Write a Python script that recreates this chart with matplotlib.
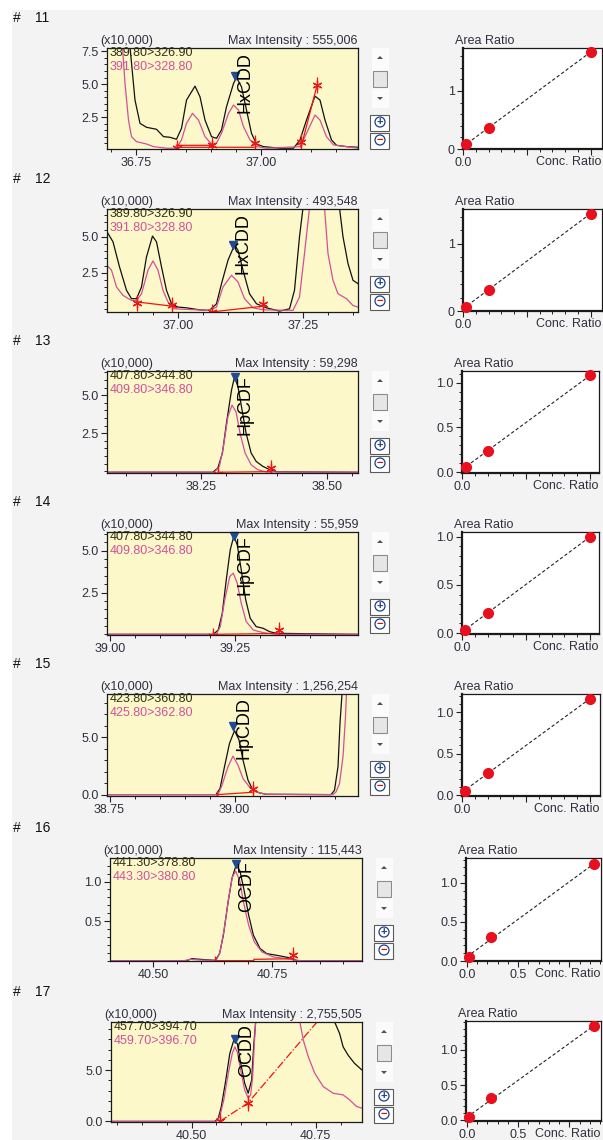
import numpy as np
import matplotlib
matplotlib.use('Agg')
import matplotlib.pyplot as plt
from matplotlib.patches import Rectangle, Polygon, Circle
from matplotlib.ticker import MultipleLocator, FixedLocator, FormatStrFormatter

plt.rcParams['font.family'] = ['Liberation Sans', 'DejaVu Sans']

nan = np.nan
W, H = 603, 1140

# ---------------- data ----------------
row_ids = ['11', '12', '13', '14', '15', '16', '17']
compounds = ['HxCDD', 'HxCDD', 'HpCDF', 'HpCDF', 'HpCDD', 'OCDF', 'OCDD']
max_intensity = ['555,006', '493,548', '59,298', '55,959', '1,256,254', '115,443', '2,755,505']
scale_labels = ['(x10,000)', '(x10,000)', '(x10,000)', '(x10,000)', '(x10,000)', '(x100,000)', '(x10,000)']
trans_quant = ['389.80>326.90', '389.80>326.90', '407.80>344.80', '407.80>344.80',
               '423.80>360.80', '441.30>378.80', '457.70>394.70']
trans_ref = ['391.80>328.80', '391.80>328.80', '409.80>346.80', '409.80>346.80',
             '425.80>362.80', '443.30>380.80', '459.70>396.70']

# chromatograms: retention time (min) / intensity (x scale)
t11_k = [36.733, 36.738, 36.748, 36.758, 36.771, 36.791, 36.805, 36.818, 36.831, 36.841, 36.851, 36.868,
         36.878, 36.888, 36.901, 36.911, 36.921, 36.931, 36.945, 36.951, 36.961, 36.971, 36.981, 36.991,
         37.005, 37.038, 37.065, 37.078, 37.091, 37.108, 37.118, 37.128, 37.141, 37.151, 37.171, 37.195]
y11_k = [9.0, 7.83, 3.79, 2.02, 1.72, 1.57, 1.01, 0.96, 0.81, 1.64, 3.79, 4.85,
         4.04, 2.27, 1.01, 0.88, 1.52, 3.28, 5.05, 5.5, 4.8, 3.03, 1.26, 0.45,
         0.25, 0.13, 0.13, 0.76, 2.27, 4.09, 3.79, 2.27, 0.76, 0.35, 0.25, 0.2]
t11_p = [36.722, 36.723, 36.728, 36.735, 36.741, 36.751, 36.771, 36.785, 36.811, 36.831, 36.841, 36.851,
         36.863, 36.875, 36.888, 36.901, 36.911, 36.921, 36.935, 36.945, 36.955, 36.965, 36.978, 36.991,
         37.011, 37.078, 37.091, 37.108, 37.118, 37.131, 37.145, 37.195]
y11_p = [9.0, 7.83, 5.05, 2.27, 1.01, 0.63, 0.45, 0.25, 0.13, 0.13, 0.76, 2.02,
         2.78, 2.27, 1.01, 0.45, 0.51, 1.26, 2.78, 3.41, 3.03, 1.77, 0.76, 0.25,
         0.13, 0.25, 1.26, 2.65, 2.27, 1.01, 0.38, 0.13]

t12_k = [36.858, 36.87, 36.883, 36.897, 36.907, 36.917, 36.927, 36.937, 36.949, 36.957, 36.967, 36.977,
         36.987, 37.0, 37.017, 37.043, 37.063, 37.077, 37.087, 37.1, 37.11, 37.113, 37.12, 37.13,
         37.143, 37.157, 37.177, 37.203, 37.223, 37.233, 37.243, 37.25, 37.287, 37.323, 37.33, 37.34,
         37.35, 37.36]
y12_k = [5.35, 4.65, 2.92, 1.30, 0.72, 0.72, 1.53, 3.61, 5.05, 4.65, 2.92, 1.30,
         0.37, 0.14, 0.09, -0.05, -0.09, 0.37, 1.76, 3.38, 4.19, 4.42, 4.07, 2.69,
         1.06, 0.37, 0.09, -0.14, 0.02, 1.30, 5.0, 7.0, 14.0, 7.0, 5.0, 3.15,
         1.99, 1.76]
t12_p = [36.858, 36.867, 36.877, 36.89, 36.907, 36.917, 36.927, 36.94, 36.95, 36.96, 36.97, 36.98,
         36.993, 37.063, 37.077, 37.09, 37.107, 37.12, 37.133, 37.15, 37.17, 37.23, 37.243, 37.253,
         37.263, 37.278, 37.293, 37.3, 37.31, 37.32, 37.337, 37.35, 37.36]
y12_p = [3.03, 2.69, 1.53, 0.95, 0.60, 0.60, 1.06, 2.69, 3.33, 2.69, 1.30, 0.49,
         0.02, -0.09, 0.14, 1.53, 2.34, 1.88, 0.72, 0.09, -0.05, -0.09, 0.83, 3.84,
         7.0, 10.0, 7.0, 3.84, 1.99, 1.06, 0.72, 0.25, 0.14]

t13_k = [38.063, 38.273, 38.283, 38.292, 38.30, 38.31, 38.316, 38.323, 38.331, 38.339, 38.349, 38.359,
         38.372, 38.386, 38.399, 38.561]
y13_k = [-0.06, -0.06, 0.22, 1.2, 3.15, 5.33, 6.2, 5.54, 4.02, 2.5, 1.2, 0.65,
         0.33, 0.11, -0.03, -0.06]
t13_p = [38.063, 38.276, 38.286, 38.294, 38.303, 38.311, 38.319, 38.327, 38.337, 38.349, 38.362, 38.379,
         38.561]
y13_p = [-0.06, -0.06, 0.33, 1.63, 3.59, 4.35, 3.91, 2.5, 1.2, 0.43, 0.11, -0.04,
         -0.06]

t14_k = [38.995, 39.207, 39.217, 39.225, 39.233, 39.241, 39.248, 39.255, 39.263, 39.272, 39.281, 39.293,
         39.307, 39.32, 39.333, 39.497]
y14_k = [0.0, 0.0, 0.26, 1.26, 3.26, 5.06, 5.86, 5.36, 3.86, 2.06, 0.96, 0.46,
         0.36, 0.16, 0.06, 0.0]
t14_p = [38.995, 39.213, 39.221, 39.23, 39.24, 39.247, 39.255, 39.263, 39.273, 39.287, 39.307, 39.333,
         39.497]
y14_p = [0.0, 0.0, 0.46, 2.06, 3.46, 3.66, 3.06, 1.86, 0.76, 0.26, 0.1, 0.0,
         0.0]

t15_k = [38.745, 38.963, 38.971, 38.98, 38.99, 39.0, 39.009, 39.017, 39.027, 39.037, 39.05, 39.063,
         39.193, 39.2, 39.207, 39.211, 39.215, 39.218]
y15_k = [0.0, 0.0, 0.53, 2.43, 4.47, 5.58, 4.77, 3.01, 1.26, 0.38, 0.15, 0.03,
         0.0, 0.38, 2.43, 6.23, 8.77, 11.0]
t15_p = [38.745, 38.967, 38.975, 38.987, 38.997, 39.007, 39.017, 39.03, 39.043, 39.063, 39.197, 39.203,
         39.21, 39.217, 39.222, 39.226]
y15_p = [0.0, 0.0, 0.82, 2.43, 3.36, 2.57, 1.4, 0.67, 0.23, 0.03, 0.0, 0.23,
         0.96, 3.3, 6.81, 11.0]

t16_k = [40.41, 40.571, 40.582, 40.6, 40.631, 40.64, 40.648, 40.657, 40.666, 40.675, 40.683, 40.692,
         40.701, 40.711, 40.725, 40.739, 40.76, 40.789, 40.803, 40.939]
y16_k = [0.0, 0.0, 0.025, 0.017, 0.004, 0.089, 0.322, 0.703, 1.04, 1.21, 1.13, 0.873,
         0.576, 0.322, 0.153, 0.089, 0.068, 0.034, 0.0, 0.0]
t16_p = [40.41, 40.565, 40.578, 40.6, 40.633, 40.641, 40.65, 40.659, 40.667, 40.674, 40.682, 40.69,
         40.701, 40.713, 40.729, 40.753, 40.789, 40.81, 40.939]
y16_p = [0.0, 0.0, 0.017, 0.008, 0.004, 0.11, 0.407, 0.788, 1.06, 1.13, 1.02, 0.746,
         0.449, 0.237, 0.11, 0.047, 0.017, 0.0, 0.0]

t17_k = [40.338, 40.547, 40.554, 40.56, 40.569, 40.577, 40.585, 40.592, 40.599, 40.607, 40.614, 40.621,
         40.625, 40.629, 40.632, 40.71, 40.788, 40.798, 40.805, 40.815, 40.828, 40.843]
y17_k = [0.0, 0.0, 0.32, 1.45, 4.03, 6.61, 7.9, 7.58, 5.65, 3.71, 2.74, 4.03,
         7.26, 9.68, 12.0, 20.0, 9.68, 8.55, 7.26, 6.45, 5.65, 5.0]
t17_p = [40.338, 40.55, 40.557, 40.565, 40.574, 40.582, 40.587, 40.592, 40.599, 40.607, 40.614, 40.619,
         40.623, 40.626, 40.629, 40.631, 40.68, 40.718, 40.725, 40.735, 40.748, 40.765, 40.785, 40.805,
         40.818, 40.832, 40.843]
y17_p = [0.0, 0.0, 0.48, 2.1, 4.68, 6.61, 7.26, 6.77, 5.0, 3.06, 2.26, 2.58,
         4.35, 7.26, 9.68, 12.0, 20.0, 9.68, 7.9, 6.29, 4.68, 3.39, 2.74, 2.58,
         2.1, 1.45, 1.29]

# integration baselines (red) and their start / end marks
base_t = [[36.831, 36.903, nan, 36.831, 36.986, nan, 37.080, 37.112],
          [36.917, 36.989, nan, 37.066, 37.17],
          [38.283, 38.389],
          [39.207, 39.337],
          [38.965, 39.035],
          [40.631, 40.712, nan, 40.712, 40.795],
          [40.557, 40.613, 40.76]]
base_y = [[0.35, 0.35, nan, 0.2, 0.2, nan, 0.2, 4.9],
          [0.5, 0.2, nan, -0.2, 0.2],
          [-0.06, -0.02],
          [0.0, 0.05],
          [0.0, 0.2],
          [0.0, 0.0, nan, 0.017, 0.025],
          [0.0, 1.77, 10.1]]
mark_t = [[36.833, 36.901, 36.988, 37.080, 37.112],
          [36.917, 36.988, 37.067, 37.17],
          [38.283, 38.389],
          [39.207, 39.339],
          [38.965, 39.036],
          [40.631, 40.794],
          [40.557, 40.613]]
mark_y = [[0.15, 0.35, 0.5, 0.6, 4.9],
          [0.4, 0.25, -0.2, 0.35],
          [-0.15, 0.2],
          [-0.1, 0.25],
          [-0.35, 0.5],
          [-0.04, 0.07],
          [0.0, 1.77]]
apex_t = [36.948, 37.11, 38.316, 39.248, 38.997, 40.675, 40.587]
apex_y = [5.6, 4.42, 6.2, 5.9, 5.99, 1.22, 8.06]
name_t = [36.968, 37.13, 38.336, 39.27, 39.02, 40.697, 40.611]
name_y = [5.15, 4.54, 4.35, 4.16, 5.79, 0.936, 6.87]

chrom_xlim = [(36.692, 37.194), (36.858, 37.36), (38.063, 38.561), (38.994, 39.497),
              (38.745, 39.247), (40.41, 40.939), (40.338, 40.843)]
chrom_ylim = [(0.07, 7.75), (-0.2, 6.92), (-0.11, 6.59), (-0.04, 6.12),
              (-0.12, 8.77), (-0.004, 1.297), (-0.06, 9.68)]
chrom_yticks = [[2.5, 5.0, 7.5], [2.5, 5.0], [2.5, 5.0], [2.5, 5.0], [0.0, 5.0], [0.5, 1.0], [0.0, 5.0]]
chrom_yminor = [0.5, 0.5, 0.5, 0.5, 1.0, 0.1, 1.0]

# calibration curves
cal_x = [[0.02, 0.2, 1.0], [0.02, 0.2, 1.0], [0.03, 0.2, 1.0], [0.02, 0.2, 1.0],
         [0.02, 0.2, 1.0], [0.02, 0.235, 1.24], [0.02, 0.235, 1.24]]
cal_y = [[0.08, 0.36, 1.67], [0.06, 0.32, 1.45], [0.06, 0.24, 1.08], [0.03, 0.21, 1.0],
         [0.05, 0.27, 1.16], [0.05, 0.31, 1.24], [0.05, 0.31, 1.34]]
cal_xlim = [(0, 1.09), (0, 1.09), (0, 1.07), (0, 1.07), (0, 1.08), (-0.01, 1.31), (-0.01, 1.31)]
cal_ylim = [(0, 1.74), (0, 1.52), (-0.01, 1.13), (-0.01, 1.05), (-0.01, 1.22), (0, 1.32), (-0.01, 1.41)]
cal_yticks = [[0, 1], [0, 1], [0, 0.5, 1.0], [0, 0.5, 1.0], [0, 0.5, 1.0], [0, 0.5, 1.0], [0, 0.5, 1.0]]
cal_ylabels = [['0', '1'], ['0', '1']] + [['0.0', '0.5', '1.0']] * 5
cal_yminor = [0.2, 0.2, 0.1, 0.1, 0.1, 0.1, 0.1]
cal_xlabels = [['0.0', '', '']] * 5 + [['0.0', '0.5', '']] * 2

# ---------------- layout (pixels of the screenshot) ----------------
chrom_box = [(107, 48, 358, 149), (107, 209, 358, 312), (107, 371, 358, 473), (107, 532, 358, 635),
             (107, 694, 358, 796), (110, 858, 362, 961), (111, 1022, 362, 1122)]
cal_box = [(463, 48, 602, 149), (463, 209, 602, 311), (462, 371, 599, 473), (462, 532, 599, 634),
           (462, 694, 600, 796), (466, 858, 601, 961), (466, 1021, 601, 1121)]

YELLOW = '#fcf8ca'
PINK = '#d2509a'
RED = '#ee1515'
LABEL_C = '#30303c'


def fig_rect(box):
    x0, y0, x1, y1 = box
    return [x0 / W, 1 - y1 / H, (x1 - x0) / W, (y1 - y0) / H]


def style_ticks(ax):
    ax.tick_params(which='major', direction='out', length=4.5, width=0.8, color='#222222',
                   labelsize=9, labelcolor=LABEL_C, pad=1.5)
    ax.tick_params(which='minor', direction='out', length=2.5, width=0.7, color='#222222')
    for sp in ax.spines.values():
        sp.set_color('#1a1a1a')
        sp.set_linewidth(0.9)


def draw_widget(bg, x, top):
    cx = x + 8
    bg.add_patch(Rectangle((x, top), 17, 60, fc='#fbfbfb', ec='none'))
    bg.add_patch(Polygon([(cx - 3, top + 11), (cx + 3, top + 11), (cx, top + 8)], fc='#505050'))
    bg.add_patch(Rectangle((x + 1, top + 23), 14, 16, fc='#e6e6e6', ec='#8c8c8c', lw=0.8))
    bg.add_patch(Polygon([(cx - 3, top + 49), (cx + 3, top + 49), (cx, top + 52)], fc='#505050'))
    for k, (sym, col) in enumerate([('+', '#1d3f8a'), ('\u2212', '#d01010')]):
        y0 = top + 67 + k * 18
        bg.add_patch(Rectangle((x - 2, y0), 19, 16, fc='white', ec='#5a5a5a', lw=0.8))
        bg.add_patch(Circle((cx, y0 + 7), 5, fc='none', ec='#1d3f8a', lw=0.9))
        bg.text(cx, y0 + 7, sym, color=col, fontsize=8, ha='center', va='center', fontweight='bold')


fig = plt.figure(figsize=(W / 100, H / 100), dpi=100)
fig.patch.set_facecolor('white')

bg = fig.add_axes([0, 0, 1, 1])
bg.set_xlim(0, W)
bg.set_ylim(H, 0)
bg.axis('off')
bg.add_patch(Rectangle((12, 10), W - 12, H - 10, fc='#f3f3f3', ec='none'))

traces = [(t11_k, y11_k, t11_p, y11_p), (t12_k, y12_k, t12_p, y12_p), (t13_k, y13_k, t13_p, y13_p),
          (t14_k, y14_k, t14_p, y14_p), (t15_k, y15_k, t15_p, y15_p), (t16_k, y16_k, t16_p, y16_p),
          (t17_k, y17_k, t17_p, y17_p)]

for i in range(7):
    L, T, R, B = chrom_box[i]

    # row number
    bg.text(13, T - 30, '#', fontsize=10, va='center', ha='left', color='#111111')
    bg.text(35, T - 30, row_ids[i], fontsize=10, va='center', ha='left', color='#111111')

    # chromatogram
    ax = fig.add_axes(fig_rect(chrom_box[i]))
    ax.set_facecolor(YELLOW)
    tk, yk, tp, yp = traces[i]
    ax.plot(tk, yk, color='#111111', lw=0.9)
    ax.plot(tp, yp, color=PINK, lw=0.9)
    ax.plot(base_t[i], base_y[i], color=RED, lw=0.9, ls='-.' if i == 6 else '-')
    ax.plot(mark_t[i], mark_y[i], ls='none', marker=(6, 2, 0), ms=7, mew=0.9, color=RED)
    ax.plot(mark_t[i], mark_y[i], ls='none', marker='|', ms=11, mew=0.9, color=RED)
    ax.plot([apex_t[i]], [apex_y[i]], ls='none', marker='v', ms=6, color='#1f4a96', clip_on=False)
    ax.text(name_t[i], name_y[i], compounds[i], rotation=90, ha='center', va='center',
            fontsize=13, color='black')
    ax.text(3 / (R - L), 1 - 5 / (B - T), trans_quant[i], transform=ax.transAxes,
            fontsize=9, color='#303018', va='center', ha='left')
    ax.text(3 / (R - L), 1 - 19 / (B - T), trans_ref[i], transform=ax.transAxes,
            fontsize=9, color=PINK, va='center', ha='left')
    ax.set_xlim(*chrom_xlim[i])
    ax.set_ylim(*chrom_ylim[i])
    ax.xaxis.set_major_locator(MultipleLocator(0.25))
    ax.xaxis.set_minor_locator(MultipleLocator(0.05))
    ax.xaxis.set_major_formatter(FormatStrFormatter('%.2f'))
    ax.yaxis.set_major_locator(FixedLocator(chrom_yticks[i]))
    ax.yaxis.set_minor_locator(MultipleLocator(chrom_yminor[i]))
    ax.yaxis.set_major_formatter(FormatStrFormatter('%.1f'))
    style_ticks(ax)

    bg.text(L - 7, T - 7, scale_labels[i], fontsize=9, color='#30303c', ha='left', va='center')
    bg.text(R, T - 7, 'Max Intensity : ' + max_intensity[i], fontsize=9, color='#30303c',
            ha='right', va='center')
    draw_widget(bg, R + 14, T)

    # calibration curve
    cL, cT, cR, cB = cal_box[i]
    cx = fig.add_axes(fig_rect(cal_box[i]))
    cx.set_facecolor('white')
    slope, icpt = np.polyfit(cal_x[i], cal_y[i], 1)
    xs = np.array([0.0, max(cal_x[i]) * 1.03])
    cx.plot(xs, slope * xs + icpt, color='#222222', lw=0.8, ls=(0, (3, 2)))
    cx.plot(cal_x[i], cal_y[i], ls='none', marker='o', ms=7, color='#e8101e', clip_on=False, zorder=3)
    cx.set_xlim(*cal_xlim[i])
    cx.set_ylim(*cal_ylim[i])
    cx.set_xticks([0.0, 0.5, 1.0])
    cx.set_xticklabels(cal_xlabels[i])
    cx.xaxis.set_minor_locator(MultipleLocator(0.1))
    cx.set_yticks(cal_yticks[i])
    cx.set_yticklabels(cal_ylabels[i])
    cx.yaxis.set_minor_locator(MultipleLocator(cal_yminor[i]))
    style_ticks(cx)
    for s in ('left', 'bottom'):
        cx.spines[s].set_linewidth(1.6)
    bg.text(cL - 8, cT - 7, 'Area Ratio', fontsize=9, color='#30303c', ha='left', va='center')
    bg.text(cR - 1, cB + 13, 'Conc. Ratio', fontsize=9, color='#30303c', ha='right', va='center')

fig.savefig('out.png', dpi=100, facecolor=fig.get_facecolor())
